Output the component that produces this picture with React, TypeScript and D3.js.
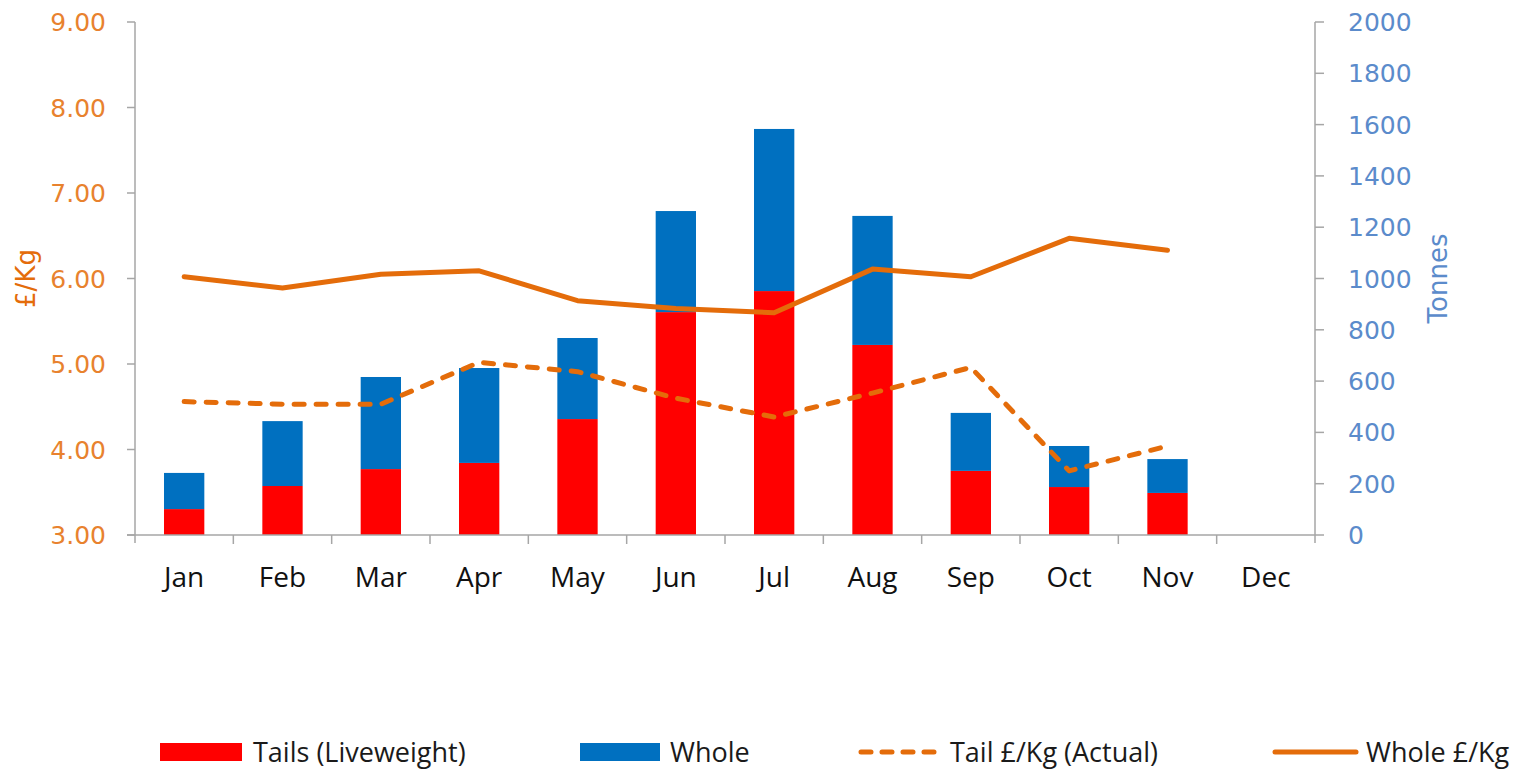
import React from "react";
import * as d3 from "d3";

// chart data
const months = ["Jan", "Feb", "Mar", "Apr", "May", "Jun", "Jul", "Aug", "Sep", "Oct", "Nov", "Dec"];
const tailsTonnes = [101, 191, 257, 281, 452, 869, 951, 741, 250, 187, 164, null];
const wholeTonnes = [141, 253, 359, 370, 316, 394, 632, 503, 226, 160, 132, null];
const tailPrice = [4.56, 4.53, 4.53, 5.02, 4.91, 4.6, 4.38, 4.66, 4.96, 3.75, 4.04, null];
const wholePrice = [6.02, 5.89, 6.05, 6.09, 5.74, 5.65, 5.6, 6.11, 6.02, 6.47, 6.33, null];
const priceTicks = [3, 4, 5, 6, 7, 8, 9];
const tonneTicks = [0, 200, 400, 600, 800, 1000, 1200, 1400, 1600, 1800, 2000];

const W = 1523;
const H = 771;
const margin = { top: 22, right: 208, bottom: 236, left: 135 };
const ORANGE = "#E46C0A";
const ORANGE_TXT = "#E8822E";
const BLUE_TXT = "#5B8BCB";
const AXIS = "#A6A6A6";
const TICK_FONT = "'DejaVu Sans', Verdana, sans-serif";
const LABEL_FONT = "'Open Sans', sans-serif";

export default function App() {
  const x0 = margin.left;
  const x1 = W - margin.right;
  const y0 = H - margin.bottom;
  const y1 = margin.top;

  const x = d3.scaleBand<string>().domain(months).range([x0, x1]).paddingInner(0.59).paddingOuter(0.295);
  const band = d3.scaleBand<string>().domain(months).range([x0, x1]);
  const yPrice = d3.scaleLinear().domain([3, 9]).range([y0, y1]);
  const yTon = d3.scaleLinear().domain([0, 2000]).range([y0, y1]);

  const cx = (m: string) => (band(m) as number) + band.bandwidth() / 2;

  const line = d3
    .line<number | null>()
    .defined((d) => d != null)
    .x((_, i) => cx(months[i]))
    .y((d) => yPrice(d as number));

  const legendY = 752;

  return (
    <svg width={W} height={H} style={{ display: "block", position: "absolute", left: 0, top: 0 }}>
      <rect width={W} height={H} fill="#fff" />

      {/* stacked bars */}
      {months.map((m, i) => {
        const t = tailsTonnes[i];
        const w = wholeTonnes[i];
        if (t == null || w == null) return null;
        return (
          <g key={m}>
            <rect x={x(m)} width={x.bandwidth()} y={yTon(t)} height={yTon(0) - yTon(t)} fill="#FF0000" />
            <rect x={x(m)} width={x.bandwidth()} y={yTon(t + w)} height={yTon(t) - yTon(t + w)} fill="#0070C0" />
          </g>
        );
      })}

      {/* price lines */}
      <path d={line(wholePrice) || ""} fill="none" stroke={ORANGE} strokeWidth={5} strokeLinejoin="round" strokeLinecap="round" />
      <path
        d={line(tailPrice) || ""}
        fill="none"
        stroke={ORANGE}
        strokeWidth={5}
        strokeDasharray="10 12"
        strokeLinecap="round"
        strokeLinejoin="round"
      />

      {/* left axis */}
      <line x1={x0} x2={x0} y1={y1} y2={y0 + 8} stroke={AXIS} strokeWidth={1.5} />
      {priceTicks.map((v) => (
        <g key={v}>
          <line x1={x0 - 8} x2={x0} y1={yPrice(v)} y2={yPrice(v)} stroke={AXIS} strokeWidth={1.5} />
          <text x={x0 - 29} y={yPrice(v)} dy="0.36em" textAnchor="end" fontFamily={TICK_FONT} fontSize={25} fill={ORANGE_TXT}>
            {d3.format(".2f")(v)}
          </text>
        </g>
      ))}
      <text
        transform={`translate(26,${(y0 + y1) / 2}) rotate(-90)`}
        textAnchor="middle"
        dy="0.36em"
        fontFamily={TICK_FONT}
        fontSize={26}
        fill={ORANGE}
      >
        £/Kg
      </text>

      {/* right axis */}
      <line x1={x1} x2={x1} y1={y1} y2={y0 + 8} stroke={AXIS} strokeWidth={1.5} />
      {tonneTicks.map((v) => (
        <g key={v}>
          <line x1={x1} x2={x1 + 9} y1={yTon(v)} y2={yTon(v)} stroke={AXIS} strokeWidth={1.5} />
          <text x={x1 + 33} y={yTon(v)} dy="0.36em" textAnchor="start" fontFamily={TICK_FONT} fontSize={25} fill={BLUE_TXT}>
            {v}
          </text>
        </g>
      ))}
      <text
        transform={`translate(1438,${(y0 + y1) / 2}) rotate(-90)`}
        textAnchor="middle"
        dy="0.36em"
        fontFamily={TICK_FONT}
        fontSize={26}
        fill={BLUE_TXT}
      >
        Tonnes
      </text>

      {/* category axis */}
      <line x1={x0 - 8} x2={x1} y1={y0} y2={y0} stroke={AXIS} strokeWidth={1.5} />
      {months.map((m, i) => (
        <g key={m}>
          {i > 0 && <line x1={band(m)} x2={band(m)} y1={y0} y2={y0 + 9} stroke={AXIS} strokeWidth={1.5} />}
          <text x={cx(m)} y={577} dy="0.36em" textAnchor="middle" fontFamily={LABEL_FONT} fontSize={28} fill="#111">
            {m}
          </text>
        </g>
      ))}

      {/* legend */}
      <g fontFamily={LABEL_FONT} fontSize={27} fill="#1a1a1a">
        <rect x={160} y={legendY - 9} width={82} height={18} fill="#FF0000" />
        <text x={253} y={legendY} dy="0.36em">Tails (Liveweight)</text>
        <rect x={580} y={legendY - 9} width={80} height={18} fill="#0070C0" />
        <text x={670} y={legendY} dy="0.36em">Whole</text>
        <line x1={861} x2={940} y1={legendY} y2={legendY} stroke={ORANGE} strokeWidth={5} strokeDasharray="10 11" strokeLinecap="round" />
        <text x={950} y={legendY} dy="0.36em">Tail £/Kg (Actual)</text>
        <line x1={1275} x2={1356} y1={legendY} y2={legendY} stroke={ORANGE} strokeWidth={5} strokeLinecap="round" />
        <text x={1366} y={legendY} dy="0.36em">Whole £/Kg</text>
      </g>
    </svg>
  );
}
